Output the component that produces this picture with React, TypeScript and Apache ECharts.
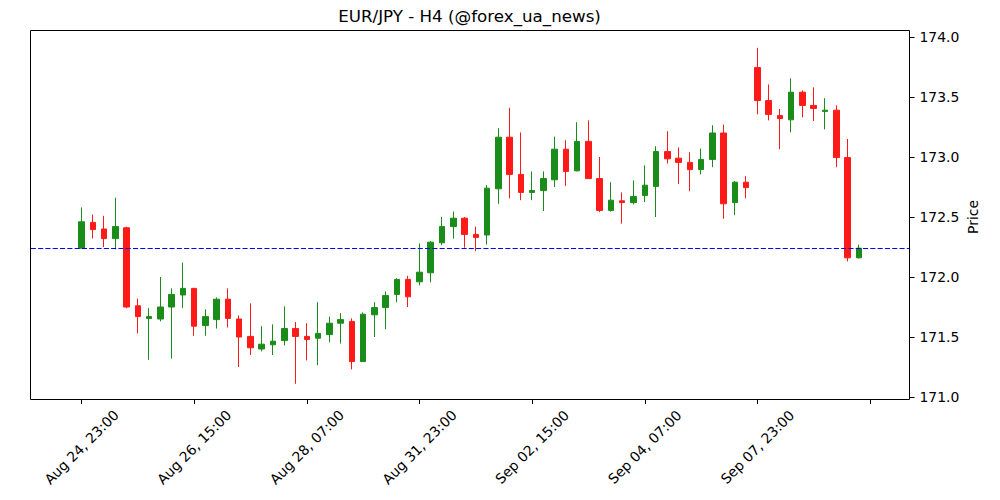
import React, { useEffect, useRef } from "react";
import * as echarts from "echarts";

const tickLabels = ["Aug 24, 23:00", "Aug 26, 15:00", "Aug 28, 07:00", "Aug 31, 23:00", "Sep 02, 15:00", "Sep 04, 07:00", "Sep 07, 23:00", ""];

const opens = [
  172.24, 172.455, 172.40, 172.32, 172.41, 171.76, 171.655, 171.65, 171.75, 171.85,
  171.905, 171.595, 171.645, 171.815, 171.65, 171.505, 171.40, 171.435, 171.47, 171.57,
  171.505, 171.49, 171.52, 171.615, 171.63, 171.295, 171.685, 171.745, 171.855, 171.98,
  171.96, 172.035, 172.285, 172.42, 172.49, 172.355, 172.35, 172.735, 173.165, 172.855,
  172.705, 172.72, 172.81, 173.065, 172.885, 173.13, 172.82, 172.555, 172.635, 172.62,
  172.68, 172.755, 173.045, 172.99, 172.955, 172.895, 172.98, 173.20, 172.62, 172.79,
  173.745, 173.47, 173.345, 173.31, 173.54, 173.43, 173.38, 173.39, 172.995, 172.16,
];
const closes = [
  172.46, 172.395, 172.32, 172.42, 171.75, 171.67, 171.67, 171.75, 171.855, 171.905,
  171.59, 171.67, 171.815, 171.655, 171.50, 171.41, 171.44, 171.465, 171.57, 171.505,
  171.48, 171.53, 171.615, 171.645, 171.295, 171.69, 171.745, 171.845, 171.98, 171.835,
  172.04, 172.29, 172.42, 172.49, 172.355, 172.33, 172.74, 173.165, 172.855, 172.705,
  172.72, 172.82, 173.065, 172.88, 173.13, 172.82, 172.555, 172.64, 172.62, 172.67,
  172.765, 173.045, 172.985, 172.955, 172.895, 172.98, 173.20, 172.61, 172.79, 172.745,
  173.47, 173.355, 173.32, 173.54, 173.43, 173.405, 173.39, 172.995, 172.16, 172.24,
];
const highs = [
  172.58, 172.52, 172.51, 172.66, 172.42, 171.82, 171.74, 172.00, 171.905, 172.12,
  171.91, 171.73, 171.83, 171.905, 171.68, 171.78, 171.59, 171.605, 171.755, 171.625,
  171.615, 171.79, 171.67, 171.70, 171.655, 171.705, 171.79, 171.88, 171.99, 172.01,
  172.28, 172.30, 172.50, 172.545, 172.50, 172.42, 172.765, 173.24, 173.41, 173.205,
  172.88, 172.88, 173.17, 173.14, 173.29, 173.305, 173.00, 172.79, 172.705, 172.805,
  172.93, 173.09, 173.215, 173.08, 173.04, 173.07, 173.265, 173.27, 172.80, 172.84,
  173.91, 173.605, 173.40, 173.655, 173.555, 173.58, 173.49, 173.43, 173.15, 172.27,
];
const lows = [
  172.24, 172.32, 172.25, 172.23, 171.74, 171.53, 171.31, 171.63, 171.32, 171.74,
  171.51, 171.51, 171.57, 171.58, 171.25, 171.35, 171.38, 171.35, 171.43, 171.11,
  171.305, 171.265, 171.455, 171.445, 171.23, 171.295, 171.50, 171.565, 171.79, 171.75,
  171.93, 171.955, 172.265, 172.32, 172.245, 172.215, 172.27, 172.61, 172.655, 172.64,
  172.64, 172.55, 172.75, 172.76, 172.88, 172.82, 172.54, 172.545, 172.445, 172.605,
  172.625, 172.50, 172.945, 172.775, 172.715, 172.855, 172.915, 172.485, 172.515, 172.655,
  173.355, 173.305, 173.065, 173.205, 173.33, 173.30, 173.23, 172.915, 172.13, 172.155,
];
const lastPrice = 172.24;

const PAD_BEFORE = 4;
const PAD_AFTER = 4;
const TICK_STEP = 10;

const UP = "#198c19";
const DOWN = "#ff1a1a";
const FONT = "DejaVu Sans";

export default function App() {
  const ref = useRef<HTMLDivElement>(null);
  useEffect(() => {
    document.body.style.margin = "0";
    const chart = echarts.init(ref.current!, undefined, { renderer: "svg" });
    const n = opens.length;
    const total = PAD_BEFORE + n + PAD_AFTER;
    const categories = Array.from({ length: total }, (_, i) => String(i));
    const data = opens.map((o, i) => [i + PAD_BEFORE, o, closes[i], lows[i], highs[i]]);
    const isTick = (idx: number) => idx >= PAD_BEFORE && (idx - PAD_BEFORE) % TICK_STEP === 0;

    chart.setOption({
      animation: false,
      grid: { left: 30.8, right: 90.5, top: 37, bottom: 103 },
      graphic: [
        {
          type: "rect",
          shape: { x: 30.5, y: 30.5, width: 879, height: 369 },
          style: { fill: "none", stroke: "#000", lineWidth: 1 },
          z: 10,
          silent: true,
        },
        {
          type: "text",
          x: 469.5,
          y: 16,
          style: {
            text: "EUR/JPY - H4 (@forex_ua_news)",
            font: `16.7px '${FONT}'`,
            fill: "#000",
            textAlign: "center",
            textVerticalAlign: "middle",
          },
        },
      ],
      xAxis: {
        type: "category",
        data: categories,
        boundaryGap: true,
        offset: 2,
        axisLine: { show: false },
        axisTick: {
          show: true,
          interval: (idx: number) => isTick(idx),
          alignWithLabel: true,
          length: 5,
          lineStyle: { color: "#000" },
        },
        axisLabel: {
          interval: (idx: number) => isTick(idx),
          rotate: 45,
          align: "center",
          verticalAlign: "middle",
          margin: 48,
          fontFamily: FONT,
          fontSize: 13.9,
          color: "#000",
          formatter: (_v: string, idx: number) => {
            const k = (idx - PAD_BEFORE) / TICK_STEP;
            return tickLabels[k] ?? "";
          },
        },
        splitLine: { show: false },
      },
      yAxis: {
        type: "value",
        position: "right",
        min: 171,
        max: 174,
        interval: 0.5,
        scale: true,
        name: "Price",
        nameLocation: "middle",
        nameGap: 56,
        nameMoveOverlap: false,
        nameRotate: 90,
        nameTextStyle: { fontFamily: FONT, fontSize: 13.9, color: "#000" },
        axisLine: { show: false },
        axisTick: { show: true, length: 5, lineStyle: { color: "#000" } },
        axisLabel: {
          margin: 10,
          fontFamily: FONT,
          fontSize: 13.9,
          color: "#000",
          formatter: (v: number) => v.toFixed(1),
        },
        splitLine: { show: false },
      },
      series: [
        {
          type: "candlestick",
          data,
          encode: { x: 0, y: [1, 2, 3, 4] },
          barWidth: 6,
          itemStyle: {
            color: UP,
            color0: DOWN,
            borderColor: UP,
            borderColor0: DOWN,
            borderWidth: 1,
          },
          markLine: {
            silent: true,
            symbol: ["none", "none"],
            label: { show: false },
            lineStyle: { color: "#0000ff", type: [5.1, 2.2], width: 1.2 },
            data: [{ yAxis: lastPrice }],
          },
        },
      ],
    });
    return () => chart.dispose();
  }, []);
  return <div ref={ref} style={{ width: 1000, height: 500 }} />;
}
